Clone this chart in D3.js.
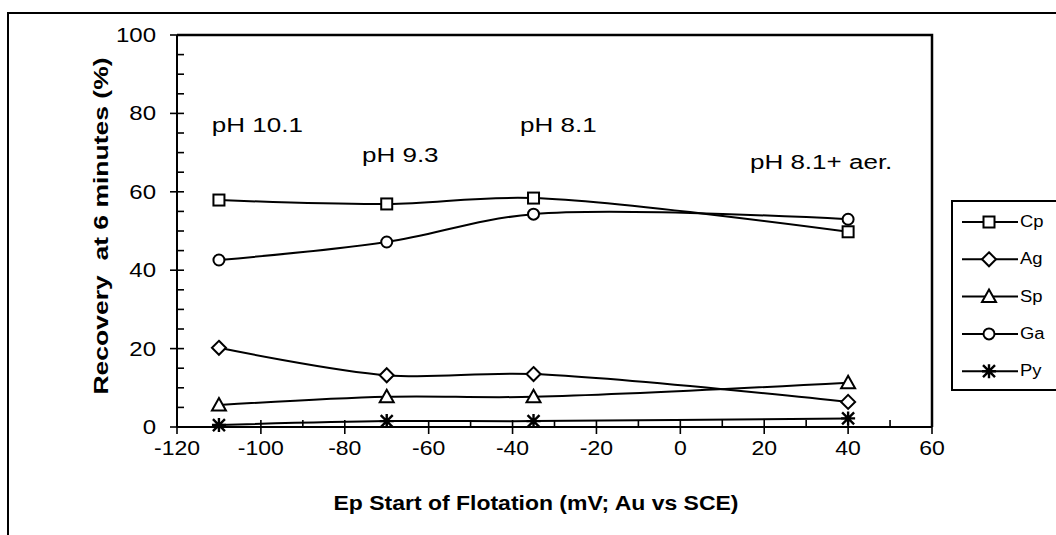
<!DOCTYPE html>
<html>
<head>
<meta charset="utf-8">
<script src="https://cdn.jsdelivr.net/npm/d3@7"></script>
<style>
  html, body { margin: 0; padding: 0; background: #fff; }
  svg { display: block; font-family: "Liberation Sans", Arial, sans-serif; }
</style>
</head>
<body>
<svg id="chart" width="1056" height="535"></svg>
<script>
// Flotation recovery after 6 minutes vs. start potential
const potentials = [-110, -70, -35, 40];
const cpRecovery = [57.9, 56.9, 58.4, 49.8];
const agRecovery = [20.2, 13.2, 13.5, 6.4];
const spRecovery = [5.6, 7.7, 7.7, 11.3];
const gaRecovery = [42.6, 47.2, 54.3, 53.0];
const pyRecovery = [0.5, 1.5, 1.5, 2.2];
const seriesNames = ["Cp", "Ag", "Sp", "Ga", "Py"];
const seriesSymbols = ["square", "diamond", "triangle", "circle", "star"];
const xTicks = [-120, -100, -80, -60, -40, -20, 0, 20, 40, 60];
const yTicks = [0, 20, 40, 60, 80, 100];
const phLabels = ["pH 10.1", "pH 9.3", "pH 8.1", "pH 8.1+ aer."];
const phLabelX = [-111.7, -75.9, -38.2, 16.6];
const phLabelY = [75.3, 67.6, 75.3, 65.8];

const seriesValues = [cpRecovery, agRecovery, spRecovery, gaRecovery, pyRecovery];

const svg = d3.select("#chart");
const plotLeft = 177, plotRight = 932, plotTop = 35, plotBottom = 427;

const x = d3.scaleLinear().domain([-120, 60]).range([plotLeft, plotRight]);
const y = d3.scaleLinear().domain([0, 100]).range([plotBottom, plotTop]);

// widen text horizontally: the lettering is set wide
function widen(sel, k) {
  sel.each(function () {
    const len = this.getComputedTextLength();
    d3.select(this).attr("textLength", len * k).attr("lengthAdjust", "spacingAndGlyphs");
  });
}

// outer frame (runs off the right and bottom edges)
svg.append("path")
  .attr("d", "M8,540 L8,13 L1060,13")
  .attr("fill", "none").attr("stroke", "#000").attr("stroke-width", 2);

// plot frame: top and right edges
svg.append("path")
  .attr("d", `M${plotLeft},${plotTop} L${plotRight},${plotTop} L${plotRight},${plotBottom}`)
  .attr("fill", "none").attr("stroke", "#000").attr("stroke-width", 2.5);

// y axis with minor ticks every 5
const yAxisG = svg.append("g");
yAxisG.append("line").attr("x1", plotLeft).attr("x2", plotLeft).attr("y1", plotTop).attr("y2", plotBottom)
  .attr("stroke", "#000").attr("stroke-width", 2);
d3.range(0, 101, 5).forEach(v => {
  const major = v % 20 === 0;
  yAxisG.append("line")
    .attr("x1", major ? plotLeft - 7 : plotLeft).attr("x2", plotLeft + 7)
    .attr("y1", y(v)).attr("y2", y(v))
    .attr("stroke", "#000").attr("stroke-width", 1.6);
});
yAxisG.selectAll("text.ytick").data(yTicks).join("text")
  .attr("class", "ytick")
  .attr("x", 156).attr("y", d => y(d) + 7)
  .attr("text-anchor", "end").attr("font-size", 20)
  .text(d => d)
  .call(widen, 1.2);

// x axis with minor ticks every 10
const xAxisG = svg.append("g");
xAxisG.append("line").attr("x1", plotLeft).attr("x2", plotRight).attr("y1", plotBottom).attr("y2", plotBottom)
  .attr("stroke", "#000").attr("stroke-width", 2);
d3.range(-120, 61, 10).forEach(v => {
  const major = v % 20 === 0;
  xAxisG.append("line")
    .attr("x1", x(v)).attr("x2", x(v))
    .attr("y1", plotBottom - 7).attr("y2", major ? plotBottom + 7 : plotBottom)
    .attr("stroke", "#000").attr("stroke-width", 1.6);
});
xAxisG.selectAll("text.xtick").data(xTicks).join("text")
  .attr("class", "xtick")
  .attr("x", d => x(d)).attr("y", 455)
  .attr("text-anchor", "middle").attr("font-size", 20)
  .text(d => d)
  .call(widen, 1.15);

// axis titles
svg.append("text")
  .attr("x", 536).attr("y", 510)
  .attr("text-anchor", "middle").attr("font-size", 20).attr("font-weight", "bold")
  .attr("textLength", 405).attr("lengthAdjust", "spacingAndGlyphs")
  .text("Ep Start of Flotation (mV; Au vs SCE)");

svg.append("text")
  .attr("transform", "translate(108,226) rotate(-90)")
  .attr("text-anchor", "middle").attr("font-size", 20).attr("font-weight", "bold")
  .attr("textLength", 337).attr("lengthAdjust", "spacingAndGlyphs")
  .style("white-space", "pre")
  .text("Recovery  at 6 minutes (%)");

// pH annotations
svg.selectAll("text.ph").data(phLabels).join("text")
  .attr("class", "ph")
  .attr("x", (d, i) => x(phLabelX[i])).attr("y", (d, i) => y(phLabelY[i]))
  .attr("font-size", 20)
  .text(d => d)
  .call(widen, 1.3);

// marker drawing
function drawMarker(g, type, cx, cy) {
  const s = g.append("g").attr("transform", `translate(${cx},${cy})`);
  const st = sel => sel.attr("fill", "#fff").attr("stroke", "#000").attr("stroke-width", 2);
  if (type === "square") st(s.append("rect").attr("x", -5.5).attr("y", -5.5).attr("width", 11).attr("height", 11));
  else if (type === "circle") st(s.append("circle").attr("r", 5.5));
  else if (type === "diamond") st(s.append("path").attr("d", "M0,-7 L7,0 L0,7 L-7,0 Z"));
  else if (type === "triangle") st(s.append("path").attr("d", "M0,-7 L7,5.5 L-7,5.5 Z"));
  else if (type === "star") {
    s.append("path").attr("d", "M-6,-6 L6,6 M-6,6 L6,-6 M0,-7 L0,7 M-7,0 L7,0")
      .attr("stroke", "#000").attr("stroke-width", 2.4);
  }
}

// series lines (smoothed) and markers
const line = d3.line()
  .x(d => x(d[0])).y(d => y(d[1]))
  .curve(d3.curveCatmullRom.alpha(0.5));

const plotG = svg.append("g");
seriesValues.forEach(vals => {
  const pts = potentials.map((p, i) => [p, vals[i]]);
  plotG.append("path").datum(pts)
    .attr("d", line)
    .attr("fill", "none").attr("stroke", "#000").attr("stroke-width", 2);
});
seriesValues.forEach((vals, si) => {
  potentials.forEach((p, i) => drawMarker(plotG, seriesSymbols[si], x(p), y(vals[i])));
});

// legend
const legG = svg.append("g");
legG.append("path")
  .attr("d", "M1060,201 L952,201 L952,390 L1060,390")
  .attr("fill", "none").attr("stroke", "#000").attr("stroke-width", 2);
seriesNames.forEach((name, i) => {
  const ly = 222 + i * 37.3;
  legG.append("line").attr("x1", 962).attr("x2", 1018).attr("y1", ly).attr("y2", ly)
    .attr("stroke", "#000").attr("stroke-width", 2);
  drawMarker(legG, seriesSymbols[i], 989, ly);
  legG.append("text").attr("x", 1020).attr("y", ly + 5)
    .attr("font-size", 16).text(name)
    .call(widen, 1.15);
});
</script>
</body>
</html>
